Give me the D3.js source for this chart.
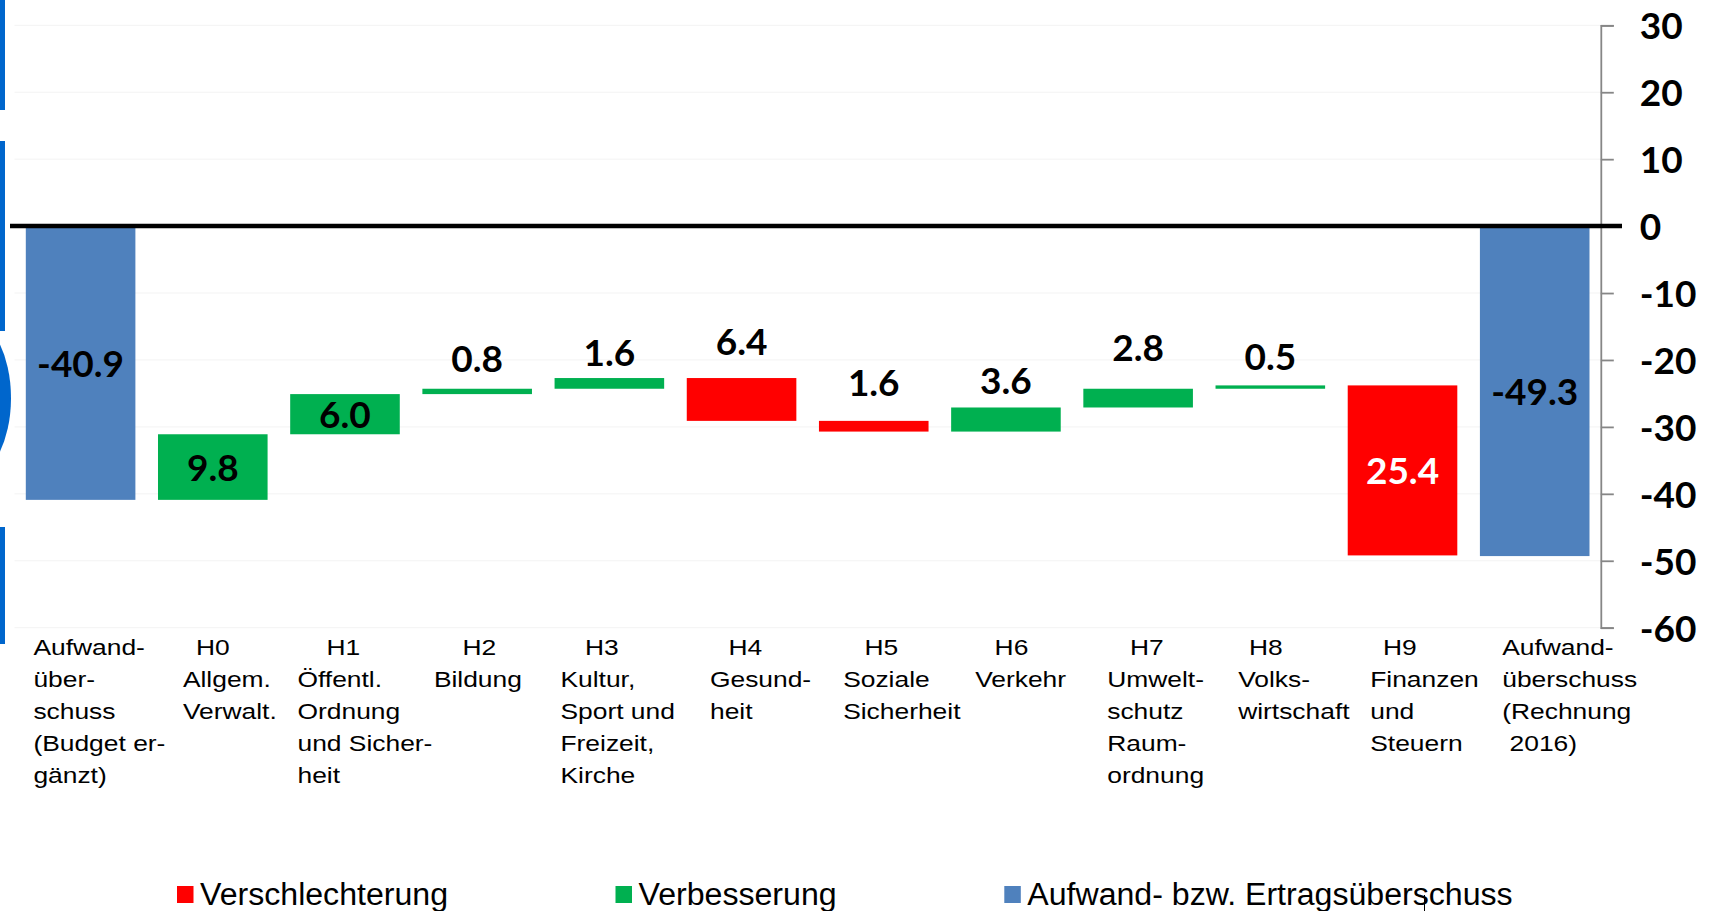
<!DOCTYPE html>
<html>
<head>
<meta charset="utf-8">
<script src="https://cdn.jsdelivr.net/npm/d3@7"></script>
<style>
  html, body { margin: 0; padding: 0; background: #ffffff; }
  svg { display: block; }
</style>
</head>
<body>
<svg id="chart" width="1711" height="911"></svg>
<script>
// ---------- data ----------
const categories = [
  "Aufwand-\nüber-\nschuss\n(Budget er-\ngänzt)",
  "H0\nAllgem.\nVerwalt.",
  "H1\nÖffentl.\nOrdnung\nund Sicher-\nheit",
  "H2\nBildung",
  "H3\nKultur,\nSport und\nFreizeit,\nKirche",
  "H4\nGesund-\nheit",
  "H5\nSoziale\nSicherheit",
  "H6\nVerkehr",
  "H7\nUmwelt-\nschutz\nRaum-\nordnung",
  "H8\nVolks-\nwirtschaft",
  "H9\nFinanzen\nund\nSteuern",
  "Aufwand-\nüberschuss\n(Rechnung\n 2016)"
];
const values = [-40.9, 9.8, 6.0, 0.8, 1.6, -6.4, -1.6, 3.6, 2.8, 0.5, -25.4, -49.3];
const kinds  = ["total", "up", "up", "up", "up", "down", "down", "up", "up", "up", "down", "total"];
const valueLabels = ["-40.9", "9.8", "6.0", "0.8", "1.6", "6.4", "1.6", "3.6", "2.8", "0.5", "25.4", "-49.3"];
const yTicks = [30, 20, 10, 0, -10, -20, -30, -40, -50, -60];
const legendLabels = ["Verschlechterung", "Verbesserung", "Aufwand- bzw. Ertragsüberschuss"];
const legendKinds = ["down", "up", "total"];

// ---------- styles / layout ----------
const colors = { total: "#4f81bd", up: "#00b050", down: "#ff0000" };
const labelInside = [true, true, true, false, false, false, false, false, false, false, true, true];
const labelLift = [0, 0, 0, 17, 12, 23, 25, 13, 28, 15, 0, 0];
const catLabelDx = [7.6, 24.9, 7.3, 11.5, 5.9, 23.2, 24.2, 24, 23.9, 22.6, 22.5, 22.3];
const headDx = [0, 0, -1.6, 2.2, -7.6, 3.8, 7.6, 5.5, 8.7, -4.4, -2.7, 0];

const svg = d3.select("#chart");

const x = d3.scaleBand()
  .domain(d3.range(categories.length))
  .range([14.5, 1600.8])
  .paddingInner(0.171)
  .paddingOuter(0.0855);

const y = d3.scaleLinear().domain([-60, 30]).range([627.7, 25.3]);

// waterfall running levels
let running = 0;
const bars = values.map((v, i) => {
  let y0, y1;
  if (kinds[i] === "total") { y0 = 0; y1 = v; running = v; }
  else { y0 = running; y1 = running + v; running = y1; }
  return { i, v, y0, y1, kind: kinds[i] };
});

// decorative left-edge artifacts from the source slide
const deco = svg.append("g");
deco.append("rect").attr("x", 0).attr("y", 0).attr("width", 5).attr("height", 110).attr("fill", "#0066cc");
deco.append("rect").attr("x", 0).attr("y", 141).attr("width", 5).attr("height", 190).attr("fill", "#0066cc");
deco.append("ellipse").attr("cx", -32).attr("cy", 398).attr("rx", 43).attr("ry", 80).attr("fill", "#0066cc");
deco.append("rect").attr("x", 0).attr("y", 527).attr("width", 5).attr("height", 117).attr("fill", "#0066cc");

// gridlines
svg.append("g").selectAll("line").data(yTicks.filter(t => t !== 0)).join("line")
  .attr("x1", 14.5).attr("x2", 1600.8)
  .attr("y1", d => y(d)).attr("y2", d => y(d))
  .attr("stroke", "#f3f3f3").attr("stroke-width", 1);

// y axis on the right
const axisG = svg.append("g").attr("transform", `translate(${1600.8},0)`)
  .call(d3.axisRight(y).tickValues(yTicks).tickSize(13).tickSizeOuter(13).tickPadding(26).tickFormat(d3.format("d")));
axisG.select(".domain").attr("stroke", "#868686").attr("stroke-width", 1.8);
axisG.selectAll(".tick line").attr("stroke", "#868686").attr("stroke-width", 1.8);
axisG.selectAll(".tick text")
  .attr("fill", "#000").attr("dy", "0.36em")
  .style("font-family", "Lato, 'Open Sans', sans-serif")
  .style("font-weight", "700").style("font-size", "37px")
  .text(d => d < 0 ? "-" + Math.abs(d) : d);

// bars
svg.append("g").selectAll("rect").data(bars).join("rect")
  .attr("x", d => x(d.i))
  .attr("width", x.bandwidth())
  .attr("y", d => y(Math.max(d.y0, d.y1)))
  .attr("height", d => Math.abs(y(d.y0) - y(d.y1)))
  .attr("fill", d => colors[d.kind]);

// zero line
svg.append("line")
  .attr("x1", 10).attr("x2", 1622)
  .attr("y1", y(0)).attr("y2", y(0))
  .attr("stroke", "#000").attr("stroke-width", 4.5);

// value labels
svg.append("g").selectAll("text").data(bars).join("text")
  .attr("x", d => x(d.i) + x.bandwidth() / 2)
  .attr("y", d => {
    const top = y(Math.max(d.y0, d.y1));
    const bot = y(Math.min(d.y0, d.y1));
    return labelInside[d.i] ? (top + bot) / 2 + 13.8 : top - labelLift[d.i];
  })
  .attr("text-anchor", "middle")
  .attr("fill", d => d.i === 10 ? "#ffffff" : "#000000")
  .style("font-family", "Lato, 'Open Sans', sans-serif")
  .style("font-weight", "700").style("font-size", "37px")
  .text(d => valueLabels[d.i]);

// category labels
const catG = svg.append("g")
  .style("font-family", "'Liberation Sans', Arial, sans-serif")
  .style("font-size", "22px").attr("fill", "#000");
categories.forEach((c, i) => {
  const lines = c.split("\n");
  const hasHead = /^H\d/.test(lines[0]);
  lines.forEach((ln, k) => {
    const by = 655 + k * 32;
    let tx, anchor;
    if (hasHead && k === 0) { tx = x(i) + x.bandwidth() / 2 + headDx[i]; anchor = "middle"; }
    else { tx = x(i) + catLabelDx[i]; anchor = "start"; }
    catG.append("text")
      .attr("transform", `translate(${tx},${by}) scale(1.2,1)`)
      .attr("text-anchor", anchor)
      .style("white-space", "pre")
      .attr("xml:space", "preserve")
      .text(ln);
  });
});

// legend
const legendX = [177, 615.5, 1004.3];
const lg = svg.append("g");
legendLabels.forEach((t, i) => {
  lg.append("rect").attr("x", legendX[i]).attr("y", 886).attr("width", 16.5).attr("height", 17)
    .attr("fill", colors[legendKinds[i]]);
  lg.append("text").attr("transform", `translate(${legendX[i] + 23},905) scale(1.036,1)`)
    .style("font-family", "'Liberation Sans', Arial, sans-serif")
    .style("font-size", "31px").attr("fill", "#000").text(t);
});

// small cursor artifact
svg.append("line").attr("x1", 1424.5).attr("x2", 1424.5).attr("y1", 895).attr("y2", 911)
  .attr("stroke", "#000").attr("stroke-width", 1);
</script>
</body>
</html>
